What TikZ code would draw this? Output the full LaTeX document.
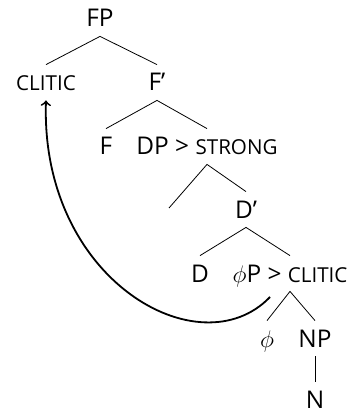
\documentclass[tikz,border=0pt]{standalone}
\usepackage{fontspec}
\setmainfont{Open Sans}
\newcommand{\fakesc}[1]{{\fontsize{10.3}{12}\selectfont #1}}
\begin{document}
\begin{tikzpicture}[x=0.5pt,y=-0.5pt]

	%DEFINICIONES
	\tikzstyle{every node}=[font=\fontsize{12.2}{14}\selectfont]
	\tikzstyle{etiqueta} = [anchor=base, inner xsep=0pt, inner ysep=4.5pt, text height=8.5pt, text depth=0pt]
	\tikzstyle{rama} = [line width=0.4pt]
	\tikzstyle{flecha} = [->, line width=0.9pt]

	\useasboundingbox (0,0) rectangle (350,411);

	%NODOS
	\node[etiqueta] (FP) at (100,27) {FP};
	\node[etiqueta] (clitic) at (46,91) {\fakesc{CLITIC}};
	\node[etiqueta] (Fbar) at (157,91) {F’};
	\node[etiqueta] (F) at (106,155) {F};
	\node[etiqueta] (DP) at (207,155) {DP > \fakesc{STRONG}};
	\coordinate (vacio) at (169,208);
	\node[etiqueta] (Dbar) at (246,218) {D’};
	\node[etiqueta] (D) at (200,282) {D};
	\node[etiqueta] (phiP) at (290,282) {$\phi$P > \fakesc{CLITIC}};
	\node[etiqueta] (phi) at (267,347) {$\phi$};
	\node[etiqueta] (NP) at (315,347) {NP};
	\node[etiqueta] (N) at (315,408) {N};
	\coordinate (huella) at (270,297);

	%RAMAS
	\draw [rama] (clitic.north) -- (FP.south) -- (Fbar.north);
	\draw [rama] (F.north) -- (Fbar.south) -- (DP.north);
	\draw [rama] (vacio) -- (DP.south) -- (Dbar.north);
	\draw [rama] (D.north) -- (Dbar.south) -- (phiP.north);
	\draw [rama] (phi.north) -- (phiP.south) -- (NP.north);
	\draw [rama] (NP.south) -- (N.north);

	%FLECHA
	\draw [flecha] (huella) .. controls (200,370) and (40,280) .. (clitic.south);
\end{tikzpicture}
\end{document}
